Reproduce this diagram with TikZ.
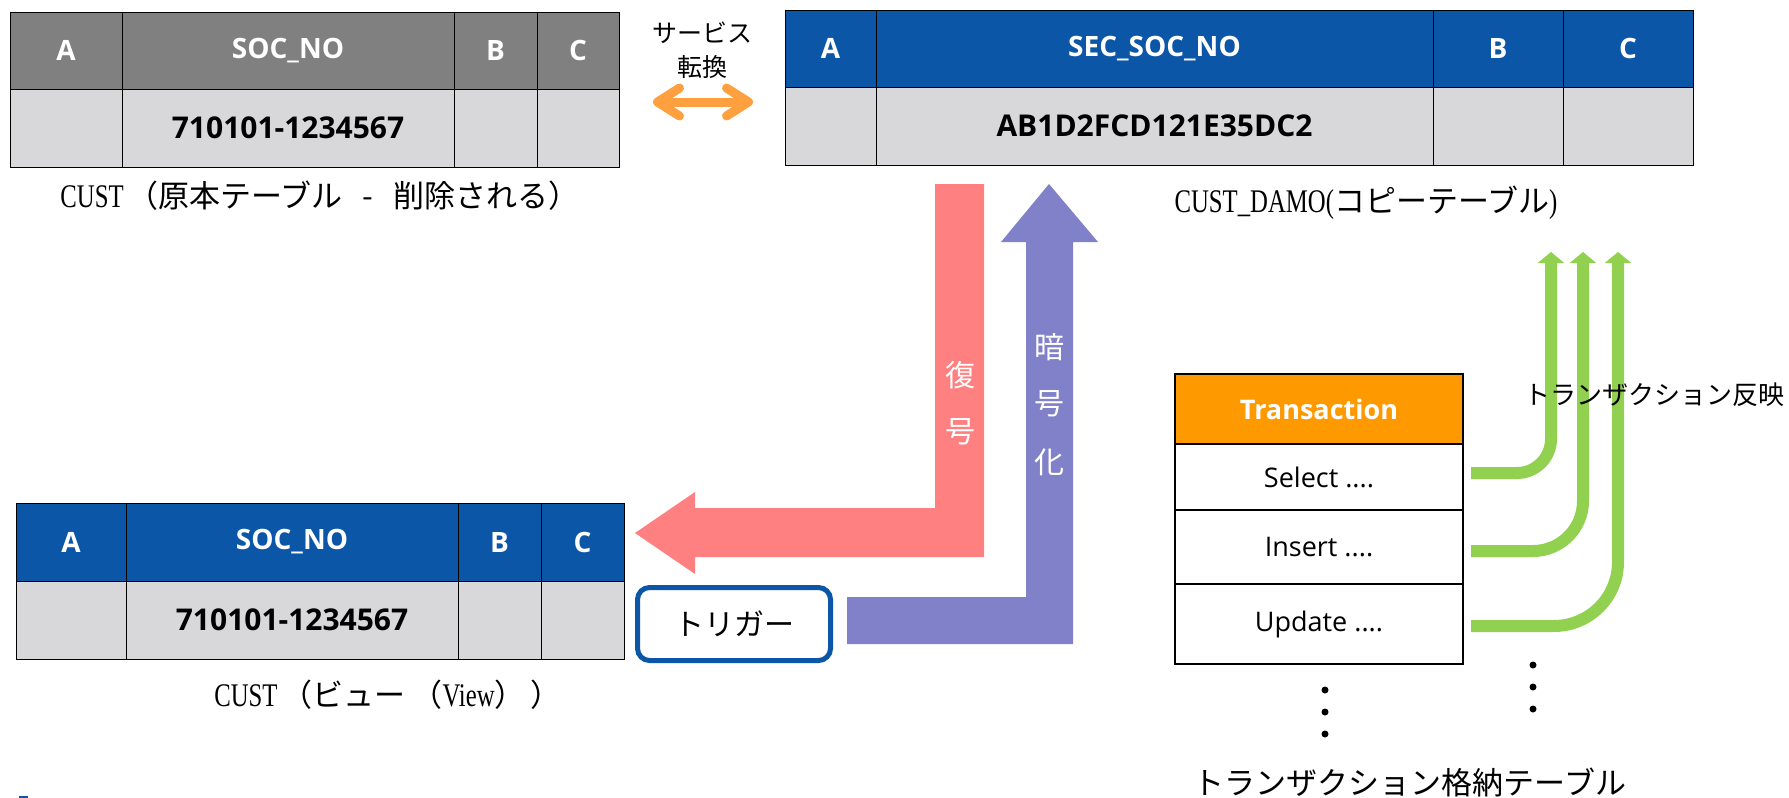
\documentclass[tikz,border=0pt]{standalone}
\usepackage{fontspec}
\setmainfont{Open Sans}
\newfontfamily\jp{Noto Sans CJK JP}
\newfontfamily\lser[FakeStretch=0.75]{Liberation Serif}
\usetikzlibrary{arrows.meta}
\definecolor{hdrblue}{RGB}{11,86,167}
\definecolor{hdrgray}{RGB}{128,128,128}
\definecolor{cellgray}{RGB}{216,216,218}
\definecolor{pinkc}{RGB}{255,128,128}
\definecolor{purplec}{RGB}{129,129,201}
\definecolor{greenc}{RGB}{146,208,80}
\definecolor{orangec}{RGB}{255,153,0}
\definecolor{orangearr}{RGB}{255,160,64}
\newcommand\mycell[7]{\node[#6, minimum width={(#4-#2)*1pt}, minimum height={(#5-#3)*1pt}] (#1) at ({(#2+#4)/2},{(#3+#5)/2}) {#7};}
\newcommand\lat[1]{{\lser\fontsize{33}{36}\selectfont #1}}
\newcommand\jpt[1]{{\jp\fontsize{31}{36}\selectfont #1}}
\tikzset{
  cellbase/.style={draw=black, line width=1pt, inner sep=0pt, text=white, font=\fontsize{28}{32}\selectfont\bfseries},
  ghead/.style={cellbase, fill=hdrgray},
  bhead/.style={cellbase, fill=hdrblue},
  dcell/.style={cellbase, fill=cellgray, text=black, font=\fontsize{30}{34}\selectfont\bfseries},
  tbox/.style={draw=black, line width=2.5pt, inner sep=0pt, fill=white, text=black, font=\fontsize{27}{31}\selectfont},
  thead/.style={tbox, fill=orangec, text=white, font=\fontsize{27}{31}\selectfont\bfseries},
  captxt/.style={inner sep=0pt, text=black},
  wlab/.style={inner sep=0pt, text=white, font=\jp\fontsize{30}{34}\selectfont},
  garr/.style={draw=greenc, line width=12pt, -{Triangle[length=11pt,width=26pt]}},
  trigbox/.style={draw=hdrblue, line width=5pt, rounded corners=12pt, fill=white, minimum width=193pt, minimum height=73pt, inner sep=0pt, font=\jp\fontsize{30}{34}\selectfont},
}
\begin{document}
\begin{tikzpicture}[x=1pt,y=-1pt]
\useasboundingbox (0,0) rectangle (1789,798);
\fill[white] (0,0) rectangle (1789,798);

% top-left table (original)
\mycell{ta}{10}{12}{122}{89}{ghead}{A}
\mycell{tsoc}{122}{12}{454}{89}{ghead}{SOC\_NO}
\mycell{tb}{454}{12}{537}{89}{ghead}{B}
\mycell{tc}{537}{12}{619}{89}{ghead}{C}
\mycell{da}{10}{89}{122}{167}{dcell}{}
\mycell{dsoc}{122}{89}{454}{167}{dcell}{710101-1234567}
\mycell{db}{454}{89}{537}{167}{dcell}{}
\mycell{dc}{537}{89}{619}{167}{dcell}{}
\node[captxt] (cap1) at (320,196) {\lat{CUST}\hspace{4pt}\jpt{（原本テーブル\hspace{20pt}-\hspace{20pt}削除される）}};

% service conversion
\node[inner sep=0pt, align=center, font=\jp\fontsize{25}{34}\selectfont] (svc) at (702,50) {サービス\\転換};
\coordinate (oa1) at (653,102);
\coordinate (oa2) at (753,102);
\draw[orangearr, line width=9pt, line cap=round, line join=round,
  {Straight Barb[round,length=22pt,width=28pt]}-{Straight Barb[round,length=22pt,width=28pt]}] (oa1) -- (oa2);

% top-right table (copy)
\mycell{ua}{785}{10}{876}{87}{bhead}{A}
\mycell{usoc}{876}{10}{1433}{87}{bhead}{SEC\_SOC\_NO}
\mycell{ub}{1433}{10}{1563}{87}{bhead}{B}
\mycell{uc}{1563}{10}{1693}{87}{bhead}{C}
\mycell{ea}{785}{87}{876}{165}{dcell}{}
\mycell{esoc}{876}{87}{1433}{165}{dcell}{AB1D2FCD121E35DC2}
\mycell{eb}{1433}{87}{1563}{165}{dcell}{}
\mycell{ec}{1563}{87}{1693}{165}{dcell}{}
\node[captxt] (cap2) at (1366,203) {\lat{CUST\_DAMO(}\jpt{コピーテーブル}\lat{)}};

% bottom-left table (view)
\mycell{va}{16}{503}{126}{581}{bhead}{A}
\mycell{vsoc}{126}{503}{458}{581}{bhead}{SOC\_NO}
\mycell{vb}{458}{503}{541}{581}{bhead}{B}
\mycell{vc}{541}{503}{624}{581}{bhead}{C}
\mycell{wa}{16}{581}{126}{659}{dcell}{}
\mycell{wsoc}{126}{581}{458}{659}{dcell}{710101-1234567}
\mycell{wb}{458}{581}{541}{659}{dcell}{}
\mycell{wc}{541}{581}{624}{659}{dcell}{}
\node[captxt] (cap3) at (388,695) {\lat{CUST}\hspace{4pt}\jpt{（ビュー\hspace{6pt}（}\lat{View}\jpt{）\hspace{5pt}）}};

% decrypt arrow (pink)
\fill[pinkc] (984,184) -- (984,557) -- (695,557) -- (695,574) -- (635,533) -- (695,492) -- (695,508) -- (935,508) -- (935,184) -- cycle;
\node[wlab] (dec1) at (960,375) {復};
\node[wlab] (dec2) at (960,432) {号};

% encrypt arrow (purple)
\fill[purplec] (1049,184) -- (1098,242) -- (1073,242) -- (1073,644) -- (847,644) -- (847,597) -- (1026,597) -- (1026,242) -- (1001,242) -- cycle;
\node[wlab] (enc1) at (1049,347) {暗};
\node[wlab] (enc2) at (1049,404) {号};
\node[wlab] (enc3) at (1049,462) {化};

% trigger
\node[trigbox] (trg) at (734,624) {トリガー};

% transaction table
\mycell{tx}{1175}{374}{1463}{444}{thead}{Transaction}
\mycell{sel}{1175}{444}{1463}{510}{tbox}{Select ....}
\mycell{ins}{1175}{510}{1463}{584}{tbox}{Insert ....}
\mycell{upd}{1175}{584}{1463}{664}{tbox}{Update ....}

% green reflection arrows
\coordinate (g1s) at (1471,473);
\coordinate (g2s) at (1471,551);
\coordinate (g3s) at (1471,626);
\coordinate (g1t) at (1551,252);
\coordinate (g2t) at (1583,252);
\coordinate (g3t) at (1618,252);
\draw[garr, rounded corners=34pt] (g1s) -| (g1t);
\draw[garr, rounded corners=50pt] (g2s) -| (g2t);
\draw[garr, rounded corners=64pt] (g3s) -| (g3t);
\node[inner sep=0pt, font=\jp\fontsize{26}{30}\selectfont] (refl) at (1654,395) {トランザクション反映};

% dots
\foreach \yy in {690,712,734} {\fill (1325,\yy) circle (3.5pt);}
\foreach \yy in {665,687,709} {\fill (1533,\yy) circle (3.5pt);}

\node[inner sep=0pt, font=\jp\fontsize{31}{36}\selectfont] (store) at (1410,782) {トランザクション格納テーブル};

% tiny mark bottom-left
\fill[hdrblue] (19,796) rectangle (28,798);
\end{tikzpicture}
\end{document}
